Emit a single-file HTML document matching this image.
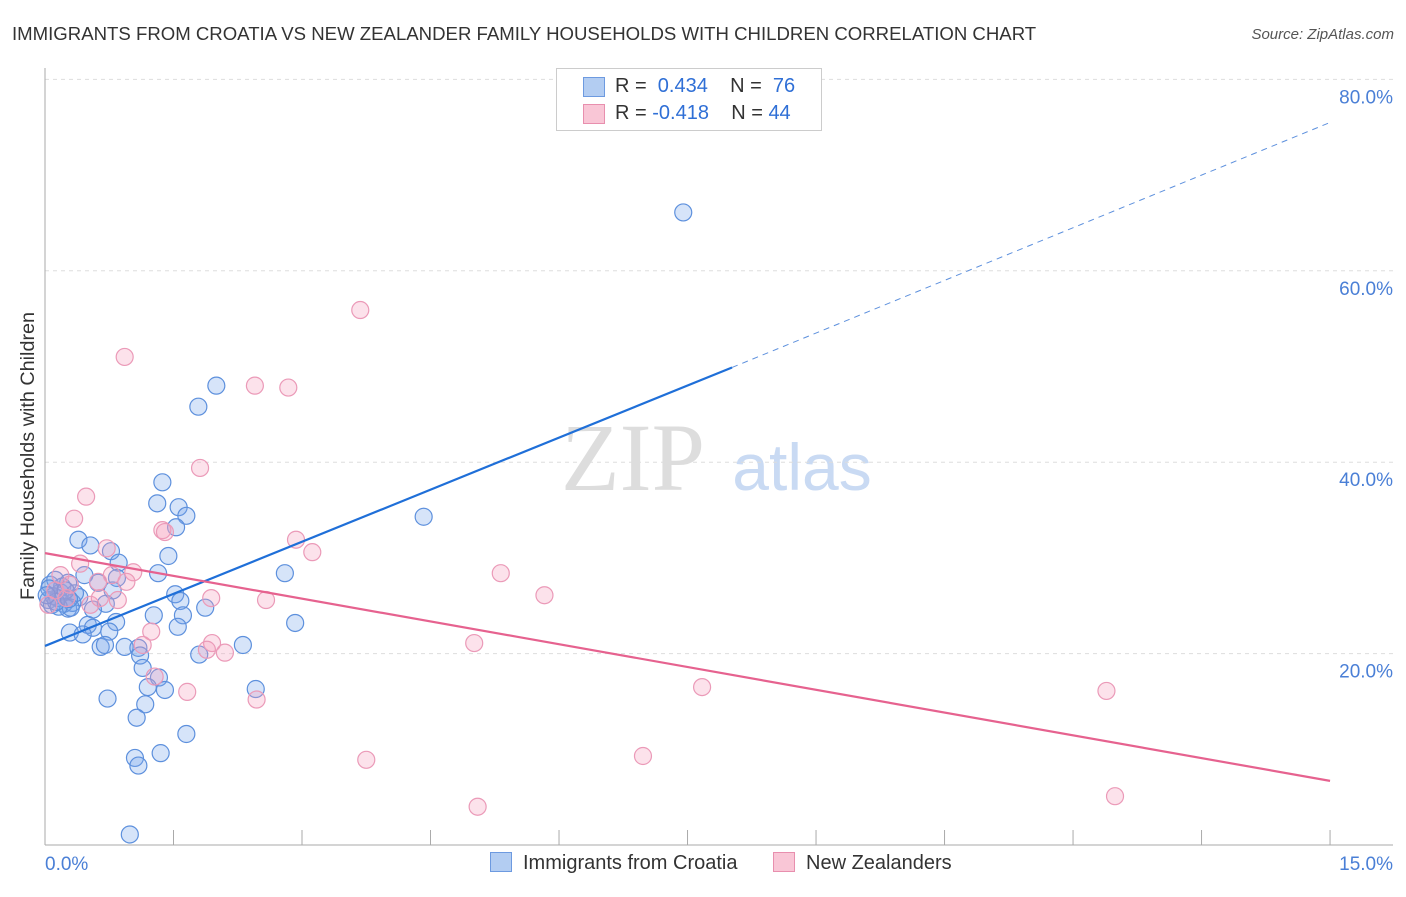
<!DOCTYPE html>
<html><head><meta charset="utf-8"><style>
body{margin:0;background:#fff;font-family:"Liberation Sans",sans-serif}
#wrap{position:relative;width:1406px;height:892px}
</style></head><body>
<div id="wrap">
<svg id="svg" width="1406" height="892" xmlns="http://www.w3.org/2000/svg">
<text x="12" y="40" font-size="18.6" fill="#333">IMMIGRANTS FROM CROATIA VS NEW ZEALANDER FAMILY HOUSEHOLDS WITH CHILDREN CORRELATION CHART</text>
<text x="1394" y="39" font-size="15" fill="#555" text-anchor="end" font-style="italic">Source: ZipAtlas.com</text>
<text x="34" y="456" font-size="19.8" fill="#333" text-anchor="middle" transform="rotate(-90 34 456)">Family Households with Children</text>
<text x="633" y="490" font-size="96" fill="#ddd" text-anchor="middle" font-family="Liberation Serif,serif">ZIP</text>
<text x="802" y="490" font-size="66" fill="#c9daf3" text-anchor="middle">atlas</text>
<g id="grid"></g><g id="marks"></g><g id="lines"></g>
</svg>
<div style="position:absolute;left:556px;top:68px;width:264px;height:61px;border:1px solid #ccc;background:#fff;font-size:20px;color:#333">
 <div style="position:absolute;left:26px;top:8px;width:20px;height:18px;background:#b3cdf2;border:1px solid #6d9ae0"></div>
 <div style="position:absolute;left:58px;top:6px">R = &nbsp;<span style="color:#2f6fd6">0.434</span>&nbsp;&nbsp;&nbsp; N = &nbsp;<span style="color:#2f6fd6">76</span></div>
 <div style="position:absolute;left:26px;top:35px;width:20px;height:18px;background:#f9c6d6;border:1px solid #e88fae"></div>
 <div style="position:absolute;left:58px;top:33px">R = <span style="color:#2f6fd6">-0.418</span>&nbsp;&nbsp;&nbsp; N = <span style="color:#2f6fd6">44</span></div>
</div>
<div style="position:absolute;left:490px;top:852px;font-size:20px;color:#333"><span style="display:inline-block;width:20px;height:18px;background:#b3cdf2;border:1px solid #6d9ae0;vertical-align:-3px;margin-right:11px"></span>Immigrants from Croatia</div>
<div style="position:absolute;left:773px;top:852px;font-size:20px;color:#333"><span style="display:inline-block;width:20px;height:18px;background:#f9c6d6;border:1px solid #e88fae;vertical-align:-3px;margin-right:11px"></span>New Zealanders</div>
</div>
<script>
const blueX=[7.45,2.0,1.79,1.37,1.31,1.56,1.65,1.53,4.42,0.39,0.53,0.77,1.44,0.86,2.80,1.32,0.46,0.84,0.62,0.79,1.52,0.4,0.71,1.58,0.56,1.87,0.27,1.27,1.61,0.83,2.92,0.5,0.56,1.55,0.29,0.44,0.75,0.65,0.7,0.93,1.09,2.31,1.11,1.80,1.14,1.33,1.2,1.4,2.46,0.73,1.17,1.07,1.65,1.35,1.05,1.09,0.99,0.06,0.12,0.18,0.04,0.08,0.15,0.22,0.32,0.2,0.27,0.1,0.3,0.05,0.16,0.35,0.24,0.13,0.02,0.28];
const blueY=[66.1,48.0,45.8,37.9,35.7,35.3,34.4,33.2,34.3,31.9,31.3,30.7,30.2,29.5,28.4,28.4,28.2,27.9,27.4,26.6,26.2,25.9,25.2,25.5,24.6,24.8,24.7,24.0,24.0,23.3,23.2,23.0,22.7,22.8,22.2,22.0,22.3,20.7,20.9,20.7,20.6,20.9,19.8,19.9,18.5,17.5,16.5,16.2,16.3,15.3,14.7,13.3,11.6,9.6,9.1,8.3,1.1,27.2,27.7,26.4,25.6,25.1,25.8,25.2,25.3,27.0,27.4,26.0,24.8,26.8,24.9,26.3,26.6,25.4,26.1,25.7];
const pinkX=[3.68,0.93,2.45,2.84,1.81,0.48,0.34,1.37,1.4,2.93,3.12,0.72,0.41,5.32,1.03,5.83,0.78,0.95,0.62,0.18,0.29,0.12,0.04,0.85,1.94,2.58,0.53,0.64,1.24,1.95,5.01,2.1,1.89,1.28,1.66,7.67,12.39,2.47,3.75,6.98,5.05,12.49,1.14,0.25];
const pinkY=[55.9,51.0,48.0,47.8,39.4,36.4,34.1,32.9,32.7,31.9,30.6,31.0,29.4,28.4,28.5,26.1,28.2,27.5,27.5,28.2,27.2,26.6,25.1,25.6,25.8,25.6,25.1,25.8,22.3,21.1,21.1,20.1,20.4,17.6,16.0,16.5,16.1,15.2,8.9,9.3,4.0,5.1,20.9,25.8];
const blueTrendX=[0,8.02,15];const blueTrendY=[20.8,49.9,75.5];
const pinkTrendX=[0,15];const pinkTrendY=[30.5,6.7];
const yTicks=[20,40,60,80];const yTickLabels=["20.0%","40.0%","60.0%","80.0%"];
const xTicks=[0,1.5,3,4.5,6,7.5,9,10.5,12,13.5,15];
const NS="http://www.w3.org/2000/svg";
const sx=v=>45+v*85.67, sy=v=>845-v*9.57;
function mk(t,a,p){const e=document.createElementNS(NS,t);for(const k in a)e.setAttribute(k,a[k]);p.appendChild(e);return e;}
const gridG=document.getElementById('grid'),marksG=document.getElementById('marks'),linesG=document.getElementById('lines');
yTicks.forEach((v,i)=>{
 let l=mk('line',{x1:45,x2:1393,y1:sy(v),y2:sy(v),stroke:'#ddd','stroke-dasharray':'4 4'},gridG);
 
 
 let t=mk('text',{x:1393,y:sy(v)+24,'text-anchor':'end','font-size':19,fill:'#4a7fd6'},gridG);t.textContent=yTickLabels[i];
 
 
});
mk('line',{x1:45,x2:45,y1:68,y2:845,stroke:'#aaa'},gridG);
mk('line',{x1:45,x2:1393,y1:845,y2:845,stroke:'#aaa'},gridG);
xTicks.forEach(v=>{let t=mk('line',{x1:sx(v),x2:sx(v),y1:830,y2:845,stroke:'#aaa'},gridG);
 
 });
let xl=mk('text',{x:45,y:870,'font-size':19,fill:'#4a7fd6'},gridG);xl.textContent='0.0%';


let xr=mk('text',{x:1393,y:870,'font-size':19,fill:'#4a7fd6','text-anchor':'end'},gridG);xr.textContent='15.0%';


blueX.forEach((x,i)=>{let c=mk('circle',{cx:sx(x),cy:sy(blueY[i]),r:8.5,fill:'rgba(120,165,235,0.3)',stroke:'#5d90dd','stroke-width':1.2},marksG);
 
 });
pinkX.forEach((x,i)=>{let c=mk('circle',{cx:sx(x),cy:sy(pinkY[i]),r:8.5,fill:'rgba(245,160,190,0.3)',stroke:'#eb9ab8','stroke-width':1.2},marksG);
 
 });
let b1=mk('line',{x1:sx(blueTrendX[0]),y1:sy(blueTrendY[0]),x2:sx(blueTrendX[1]),y2:sy(blueTrendY[1]),stroke:'#1f6fd8','stroke-width':2.2},linesG);


let b2=mk('line',{x1:sx(blueTrendX[1]),y1:sy(blueTrendY[1]),x2:sx(blueTrendX[2]),y2:sy(blueTrendY[2]),stroke:'#5d90dd','stroke-width':1,'stroke-dasharray':'6 5'},linesG);


let p1=mk('line',{x1:sx(pinkTrendX[0]),y1:sy(pinkTrendY[0]),x2:sx(pinkTrendX[1]),y2:sy(pinkTrendY[1]),stroke:'#e6628f','stroke-width':2.2},linesG);


</script>
</body></html>
